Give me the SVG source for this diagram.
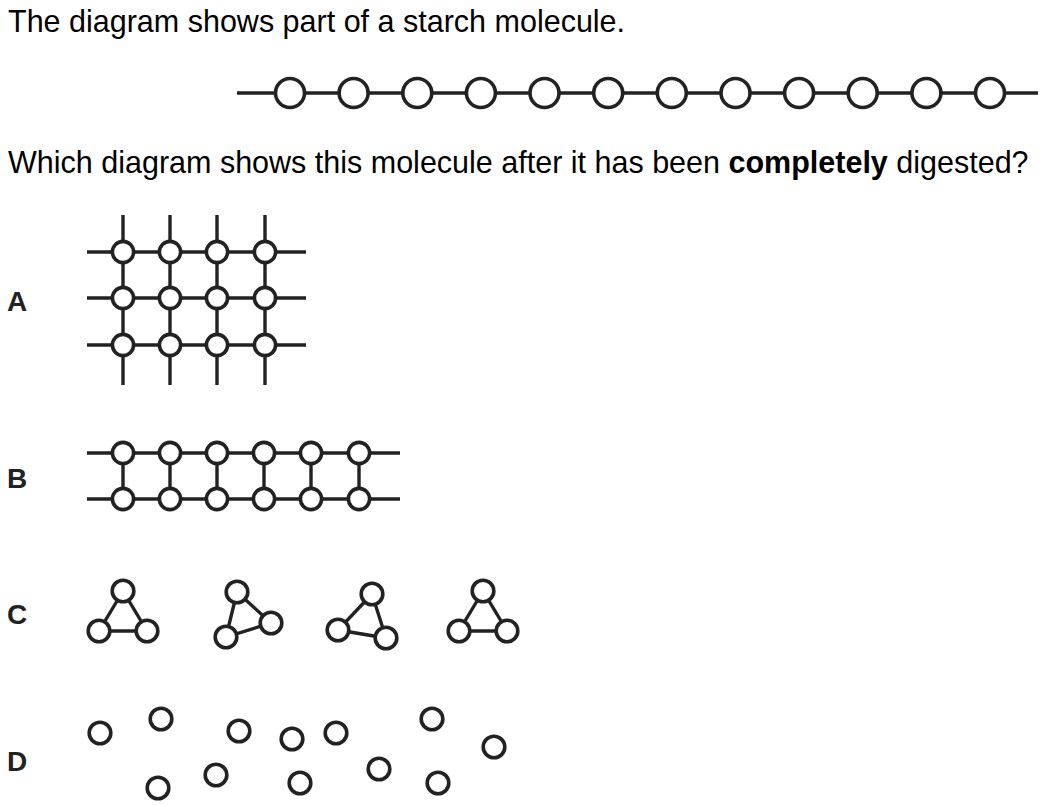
<svg xmlns="http://www.w3.org/2000/svg" width="1046" height="806" viewBox="0 0 1046 806">
<style>
.t{font-family:"Liberation Sans",Arial,sans-serif;font-size:30.5px;fill:#000}
.lb{font-family:"Liberation Sans",Arial,sans-serif;font-size:28px;font-weight:bold;fill:#222}
.ln{stroke:#222;stroke-width:3.4;fill:none}
.c{stroke:#222;stroke-width:3.6;fill:#fff}
</style>
<g id="title"><text class="t" x="8" y="32">The diagram shows part of a starch molecule.</text></g>
<g id="question"><text class="t" x="8" y="173">Which diagram shows this molecule after it has been <tspan font-weight="bold">completely</tspan> digested?</text></g>
<g id="chain">
<line class="ln" x1="237" y1="93" x2="1038" y2="93"/>
<circle class="c" cx="290" cy="93" r="14.5"/>
<circle class="c" cx="353.6" cy="93" r="14.5"/>
<circle class="c" cx="417.3" cy="93" r="14.5"/>
<circle class="c" cx="480.9" cy="93" r="14.5"/>
<circle class="c" cx="544.5" cy="93" r="14.5"/>
<circle class="c" cx="608.2" cy="93" r="14.5"/>
<circle class="c" cx="671.8" cy="93" r="14.5"/>
<circle class="c" cx="735.5" cy="93" r="14.5"/>
<circle class="c" cx="799.1" cy="93" r="14.5"/>
<circle class="c" cx="862.7" cy="93" r="14.5"/>
<circle class="c" cx="926.4" cy="93" r="14.5"/>
<circle class="c" cx="990" cy="93" r="14.5"/>
</g>
<g id="optionA">
<text class="lb" x="7" y="311">A</text>
<g class="ln">
<line x1="87" y1="252" x2="306" y2="252"/>
<line x1="87" y1="298" x2="306" y2="298"/>
<line x1="87" y1="345" x2="306" y2="345"/>
<line x1="123" y1="215" x2="123" y2="385"/>
<line x1="170" y1="215" x2="170" y2="385"/>
<line x1="217" y1="215" x2="217" y2="385"/>
<line x1="265" y1="215" x2="265" y2="385"/>
</g>
<g class="c">
<circle cx="123" cy="252" r="10.6"/><circle cx="170" cy="252" r="10.6"/><circle cx="217" cy="252" r="10.6"/><circle cx="265" cy="252" r="10.6"/>
<circle cx="123" cy="298" r="10.6"/><circle cx="170" cy="298" r="10.6"/><circle cx="217" cy="298" r="10.6"/><circle cx="265" cy="298" r="10.6"/>
<circle cx="123" cy="345" r="10.6"/><circle cx="170" cy="345" r="10.6"/><circle cx="217" cy="345" r="10.6"/><circle cx="265" cy="345" r="10.6"/>
</g>
</g>
<g id="optionB">
<text class="lb" x="7" y="488">B</text>
<g class="ln">
<line x1="87" y1="453" x2="400" y2="453"/>
<line x1="87" y1="499" x2="400" y2="499"/>
<line x1="123" y1="453" x2="123" y2="499"/>
<line x1="170" y1="453" x2="170" y2="499"/>
<line x1="217" y1="453" x2="217" y2="499"/>
<line x1="264" y1="453" x2="264" y2="499"/>
<line x1="311" y1="453" x2="311" y2="499"/>
<line x1="359" y1="453" x2="359" y2="499"/>
</g>
<g class="c">
<circle cx="123" cy="453" r="10.6"/><circle cx="170" cy="453" r="10.6"/><circle cx="217" cy="453" r="10.6"/><circle cx="264" cy="453" r="10.6"/><circle cx="311" cy="453" r="10.6"/><circle cx="359" cy="453" r="10.6"/>
<circle cx="123" cy="499" r="10.6"/><circle cx="170" cy="499" r="10.6"/><circle cx="217" cy="499" r="10.6"/><circle cx="264" cy="499" r="10.6"/><circle cx="311" cy="499" r="10.6"/><circle cx="359" cy="499" r="10.6"/>
</g>
</g>
<g id="optionC">
<text class="lb" x="7" y="624">C</text>
<g class="ln">
<polygon points="123,591 99,631 147,631"/>
<polygon points="237,592 226,637 271,623"/>
<polygon points="372,594 338,630 386,638"/>
<polygon points="483,591 459,631 507,631"/>
</g>
<g class="c">
<circle cx="123" cy="591" r="10.8"/><circle cx="99" cy="631" r="10.8"/><circle cx="147" cy="631" r="10.8"/>
<circle cx="237" cy="592" r="10.8"/><circle cx="226" cy="637" r="10.8"/><circle cx="271" cy="623" r="10.8"/>
<circle cx="372" cy="594" r="10.8"/><circle cx="338" cy="630" r="10.8"/><circle cx="386" cy="638" r="10.8"/>
<circle cx="483" cy="591" r="10.8"/><circle cx="459" cy="631" r="10.8"/><circle cx="507" cy="631" r="10.8"/>
</g>
</g>
<g id="optionD">
<text class="lb" x="7" y="771">D</text>
<g class="c">
<circle cx="100" cy="733" r="10.8"/>
<circle cx="161" cy="719" r="10.8"/>
<circle cx="239" cy="731" r="10.8"/>
<circle cx="292" cy="739" r="10.8"/>
<circle cx="336" cy="733" r="10.8"/>
<circle cx="432" cy="719" r="10.8"/>
<circle cx="494" cy="747" r="10.8"/>
<circle cx="158" cy="788" r="10.8"/>
<circle cx="216" cy="775" r="10.8"/>
<circle cx="300" cy="783" r="10.8"/>
<circle cx="379" cy="769" r="10.8"/>
<circle cx="438" cy="783" r="10.8"/>
</g>
</g>
</svg>
